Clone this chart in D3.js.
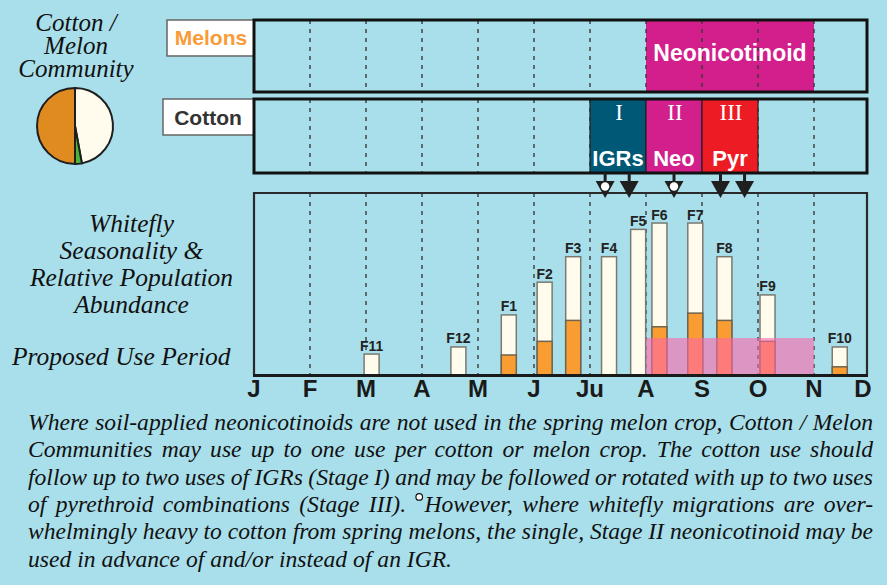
<!DOCTYPE html>
<html>
<head>
<meta charset="utf-8">
<script src="https://cdn.jsdelivr.net/npm/d3@7"></script>
<style>
  html, body { margin: 0; padding: 0; background: #a9dfeb; }
  svg { display: block; }
</style>
</head>
<body>
<svg id="chart" width="887" height="585"></svg>
<script>
// ---------------- DATA ----------------
const months = ["J", "F", "M", "A", "M", "J", "Ju", "A", "S", "O", "N", "D"];

const broods      = ["F11", "F12", "F1", "F2", "F3", "F4", "F5", "F6", "F7", "F8", "F9", "F10"];
const broodMonth  = [2.10, 3.65, 4.55, 5.19, 5.70, 6.34, 6.86, 7.24, 7.88, 8.40, 9.17, 10.46];
const broodTotal  = [11.5, 15.4, 33.0, 51.0, 65.0, 65.0, 80.0, 83.5, 83.5, 65.0, 44.0, 15.4];
const broodOrange = [0, 0, 11.0, 18.5, 30.0, 0, 0, 26.5, 34.0, 30.0, 18.5, 4.5];

const pieLabels = ["Cotton", "Other", "Melons"];
const pieValues = [47.1, 2.9, 50.0];

const melonStageNames = ["Neonicotinoid"];
const melonStageStart = [7];
const melonStageEnd   = [10];

const cottonStageNumerals = ["I", "II", "III"];
const cottonStageNames    = ["IGRs", "Neo", "Pyr"];
const cottonStageStart    = [6, 7, 8];
const cottonStageEnd      = [7, 8, 9];

const arrowMonths = [6.27, 6.70, 7.50, 8.33, 8.76];
const arrowCircle = [true, false, true, false, false];

const proposedUseStart = 7;
const proposedUseEnd   = 10;
const proposedUseLevel = 20.3;

const titleLines = ["Cotton /", "Melon", "Community"];
const sideLines  = ["Whitefly", "Seasonality &", "Relative Population", "Abundance"];
const useLabel   = "Proposed Use Period";

const noteLines = [
  "Where soil-applied neonicotinoids are not used in the spring melon crop, Cotton / Melon",
  "Communities may use up to one use per cotton or melon crop. The cotton use should",
  "follow up to two uses of IGRs (Stage I) and may be followed or rotated with up to two uses",
  "of pyrethroid combinations (Stage III). °However, where whitefly migrations are over-",
  "whelmingly heavy to cotton from spring melons, the single, Stage II neonicotinoid may be",
  "used in advance of and/or instead of an IGR."
];

// ---------------- STYLE / LAYOUT ----------------
const C = {
  ink: "#1f1f1f",
  orange: "#f99d33",
  pieOrange: "#e08b1f",
  cream: "#fffcee",
  green: "#4db33d",
  magenta: "#d21f8c",
  teal: "#005877",
  red: "#ed1c24",
  pink: "rgb(255,101,168)",
  melonText: "#f89b38",
  cottonText: "#333333"
};
const serif = "'Liberation Serif', 'Times New Roman', serif";
const sans = "'Liberation Sans', Arial, Helvetica, sans-serif";

const svg = d3.select("#chart");
const x = d3.scaleLinear().domain([0, 11]).range([254, 870]);
const left = x(0), right = 867;

const melonPanel = { y0: 20, y1: 92 };
const cottonPanel = { y0: 99, y1: 173 };
const main = { y0: 193, y1: 375 };
const y = d3.scaleLinear().domain([0, 100]).range([main.y1, main.y0]);

const gridMonths = d3.range(1, 11);

function dashed(g, y0, y1) {
  g.selectAll("line.grid").data(gridMonths).join("line")
    .attr("class", "grid")
    .attr("x1", d => x(d)).attr("x2", d => x(d))
    .attr("y1", y0).attr("y2", y1)
    .attr("stroke", "#3a3a3a").attr("stroke-width", 1.4)
    .attr("stroke-dasharray", "4,5");
}

// ---------- Title + pie ----------
svg.append("g").selectAll("text").data(titleLines).join("text")
  .attr("x", 76).attr("y", (d, i) => 31 + i * 23)
  .attr("text-anchor", "middle")
  .attr("font-family", serif).attr("font-style", "italic")
  .attr("font-size", 25).attr("fill", "#111")
  .text(d => d);

const pie = d3.pie().sort(null).value(d => d)(pieValues);
const arc = d3.arc().innerRadius(0).outerRadius(38);
const pieColors = [C.cream, C.green, C.pieOrange];
svg.append("g").attr("transform", "translate(75,126)")
  .selectAll("path").data(pie).join("path")
  .attr("d", arc)
  .attr("fill", (d, i) => pieColors[i])
  .attr("stroke", C.ink).attr("stroke-width", 2)
  .append("title").text((d, i) => pieLabels[i]);

// ---------- Melon panel ----------
const gm = svg.append("g");
gm.append("rect").attr("x", 167).attr("y", 20).attr("width", left - 167).attr("height", 36)
  .attr("fill", "#fff").attr("stroke", "#6d6d6d").attr("stroke-width", 1.6);
gm.append("text").attr("x", 211).attr("y", 45).attr("text-anchor", "middle")
  .attr("font-family", sans).attr("font-weight", "bold").attr("font-size", 21)
  .attr("fill", C.melonText).text("Melons");
gm.selectAll("rect.stage").data(melonStageNames).join("rect").attr("class", "stage")
  .attr("x", (d, i) => x(melonStageStart[i])).attr("y", melonPanel.y0)
  .attr("width", (d, i) => x(melonStageEnd[i]) - x(melonStageStart[i]))
  .attr("height", melonPanel.y1 - melonPanel.y0)
  .attr("fill", C.magenta);
dashed(gm, melonPanel.y0, melonPanel.y1);
gm.selectAll("text.stage").data(melonStageNames).join("text").attr("class", "stage")
  .attr("x", (d, i) => (x(melonStageStart[i]) + x(melonStageEnd[i])) / 2)
  .attr("y", 60.5).attr("text-anchor", "middle")
  .attr("font-family", sans).attr("font-weight", "bold").attr("font-size", 23)
  .attr("fill", "#fff").text(d => d);
gm.append("rect").attr("x", left).attr("y", melonPanel.y0)
  .attr("width", right - left).attr("height", melonPanel.y1 - melonPanel.y0)
  .attr("fill", "none").attr("stroke", "#111").attr("stroke-width", 3);

// ---------- Cotton panel ----------
const gc = svg.append("g");
gc.append("rect").attr("x", 163).attr("y", 99).attr("width", left - 163).attr("height", 36)
  .attr("fill", "#fff").attr("stroke", "#6d6d6d").attr("stroke-width", 1.6);
gc.append("text").attr("x", 208).attr("y", 125).attr("text-anchor", "middle")
  .attr("font-family", sans).attr("font-weight", "bold").attr("font-size", 21)
  .attr("fill", C.cottonText).text("Cotton");
dashed(gc, cottonPanel.y0, cottonPanel.y1);
const stageColors = [C.teal, C.magenta, C.red];
gc.selectAll("rect.stage").data(cottonStageNames).join("rect").attr("class", "stage")
  .attr("x", (d, i) => x(cottonStageStart[i])).attr("y", cottonPanel.y0)
  .attr("width", (d, i) => x(cottonStageEnd[i]) - x(cottonStageStart[i]))
  .attr("height", cottonPanel.y1 - cottonPanel.y0)
  .attr("fill", (d, i) => stageColors[i]).attr("stroke", "#222").attr("stroke-width", 1.2);
gc.selectAll("text.num").data(cottonStageNumerals).join("text").attr("class", "num")
  .attr("x", (d, i) => (x(cottonStageStart[i]) + x(cottonStageEnd[i])) / 2 + 1)
  .attr("y", 120).attr("text-anchor", "middle")
  .attr("font-family", serif).attr("font-size", 23).attr("fill", "#fff")
  .text(d => d);
gc.selectAll("text.name").data(cottonStageNames).join("text").attr("class", "name")
  .attr("x", (d, i) => (x(cottonStageStart[i]) + x(cottonStageEnd[i])) / 2)
  .attr("y", 166).attr("text-anchor", "middle")
  .attr("font-family", sans).attr("font-weight", "bold").attr("font-size", 22)
  .attr("fill", "#fff").text(d => d);
gc.append("rect").attr("x", left).attr("y", cottonPanel.y0)
  .attr("width", right - left).attr("height", cottonPanel.y1 - cottonPanel.y0)
  .attr("fill", "none").attr("stroke", "#111").attr("stroke-width", 3);

// ---------- Main panel ----------
const g = svg.append("g");
dashed(g, main.y0, main.y1);

const barW = 15;
const bars = g.selectAll("g.bar").data(broods).join("g").attr("class", "bar");
bars.append("rect")
  .attr("x", (d, i) => x(broodMonth[i]) - barW / 2)
  .attr("y", (d, i) => y(broodTotal[i]))
  .attr("width", barW)
  .attr("height", (d, i) => y(0) - y(broodTotal[i]))
  .attr("fill", C.cream).attr("stroke", "#7a7a70").attr("stroke-width", 1.5);
bars.filter((d, i) => broodOrange[i] > 0).append("rect")
  .attr("x", d => x(broodMonth[broods.indexOf(d)]) - barW / 2)
  .attr("y", d => y(broodOrange[broods.indexOf(d)]))
  .attr("width", barW)
  .attr("height", d => y(0) - y(broodOrange[broods.indexOf(d)]))
  .attr("fill", C.orange).attr("stroke", "#6e6450").attr("stroke-width", 1.5);
bars.append("text")
  .attr("x", (d, i) => x(broodMonth[i]))
  .attr("y", (d, i) => y(broodTotal[i]) - 3.5)
  .attr("text-anchor", "middle")
  .attr("font-family", sans).attr("font-weight", "bold").attr("font-size", 14)
  .attr("fill", "#222").text(d => d);

// proposed use period band
g.append("rect")
  .attr("x", x(proposedUseStart)).attr("y", y(proposedUseLevel))
  .attr("width", x(proposedUseEnd) - x(proposedUseStart))
  .attr("height", y(0) - y(proposedUseLevel))
  .attr("fill", C.pink).attr("fill-opacity", 0.6);

// frame
g.append("path")
  .attr("d", `M${left},${main.y1}V${main.y0}H${right}V${main.y1}`)
  .attr("fill", "none").attr("stroke", "#2a2a2a").attr("stroke-width", 2.2);
g.append("line").attr("x1", left - 1).attr("x2", right + 1)
  .attr("y1", main.y1 + 0.5).attr("y2", main.y1 + 0.5)
  .attr("stroke", "#1a1a1a").attr("stroke-width", 3);

// month axis labels
g.selectAll("text.month").data(months).join("text").attr("class", "month")
  .attr("x", (d, i) => x(i) - (i === months.length - 1 ? 7 : 0))
  .attr("y", 397).attr("text-anchor", "middle")
  .attr("font-family", sans).attr("font-weight", "bold").attr("font-size", 24)
  .attr("fill", "#1a1a1a").text(d => d);

// ---------- Arrows ----------
const ga = svg.append("g");
const arrows = ga.selectAll("g").data(arrowMonths).join("g")
  .attr("transform", d => `translate(${x(d)},0)`);
arrows.append("line").attr("x1", 0).attr("x2", 0)
  .attr("y1", cottonPanel.y1).attr("y2", 182)
  .attr("stroke", C.ink).attr("stroke-width", 3);
arrows.append("path").attr("d", "M-9.5,181 L9.5,181 L0,198 Z").attr("fill", C.ink);
arrows.filter((d, i) => arrowCircle[i]).append("circle")
  .attr("cx", 0).attr("cy", 186.5).attr("r", 4.2).attr("fill", "#fff");

// ---------- Side labels ----------
svg.append("g").selectAll("text").data(sideLines).join("text")
  .attr("x", 131.5).attr("y", (d, i) => 231.5 + i * 27)
  .attr("text-anchor", "middle")
  .attr("font-family", serif).attr("font-style", "italic")
  .attr("font-size", 25.5).attr("fill", "#111").text(d => d);
svg.append("text").attr("x", 12).attr("y", 365)
  .attr("font-family", serif).attr("font-style", "italic")
  .attr("font-size", 25.5).attr("fill", "#111").text(useLabel);

// ---------- Note paragraph (justified) ----------
const noteX0 = 28, noteX1 = 873, noteFont = 23.6;
const gn = svg.append("g")
  .attr("font-family", serif).attr("font-style", "italic")
  .attr("fill", "#111");
noteLines.forEach((line, li) => {
  const yy = 430 + li * 27.3;
  const last = li === noteLines.length - 1;
  const words = line.split(" ");
  const t = gn.append("text").attr("y", yy).attr("font-size", noteFont);
  let spans = words.map(w => {
    const hasMark = w.startsWith("°");
    const s = t.append("tspan").text(hasMark ? w.slice(1) : w);
    return { s, hasMark, w: 0 };
  });
  const markW = 9;
  const measure = () => spans.forEach(sp => {
    sp.w = sp.s.node().getComputedTextLength() + (sp.hasMark ? markW : 0);
  });
  measure();
  let total = d3.sum(spans, d => d.w);
  const minGap = 4.2;
  if (!last) {
    const avail = noteX1 - noteX0 - minGap * (spans.length - 1);
    if (total > avail) {
      t.attr("font-size", noteFont * avail / total);
      measure();
      total = d3.sum(spans, d => d.w);
    }
  }
  const gap = last ? 5.9 : (noteX1 - noteX0 - total) / (spans.length - 1);
  let cx = noteX0;
  spans.forEach(sp => {
    if (sp.hasMark) {
      gn.append("circle").attr("cx", cx + 3.8).attr("cy", yy - 15)
        .attr("r", 3.3).attr("fill", "#fff").attr("stroke", "#111").attr("stroke-width", 1.2);
      sp.s.attr("x", cx + markW);
    } else {
      sp.s.attr("x", cx);
    }
    cx += sp.w + gap;
  });
});
</script>
</body>
</html>
